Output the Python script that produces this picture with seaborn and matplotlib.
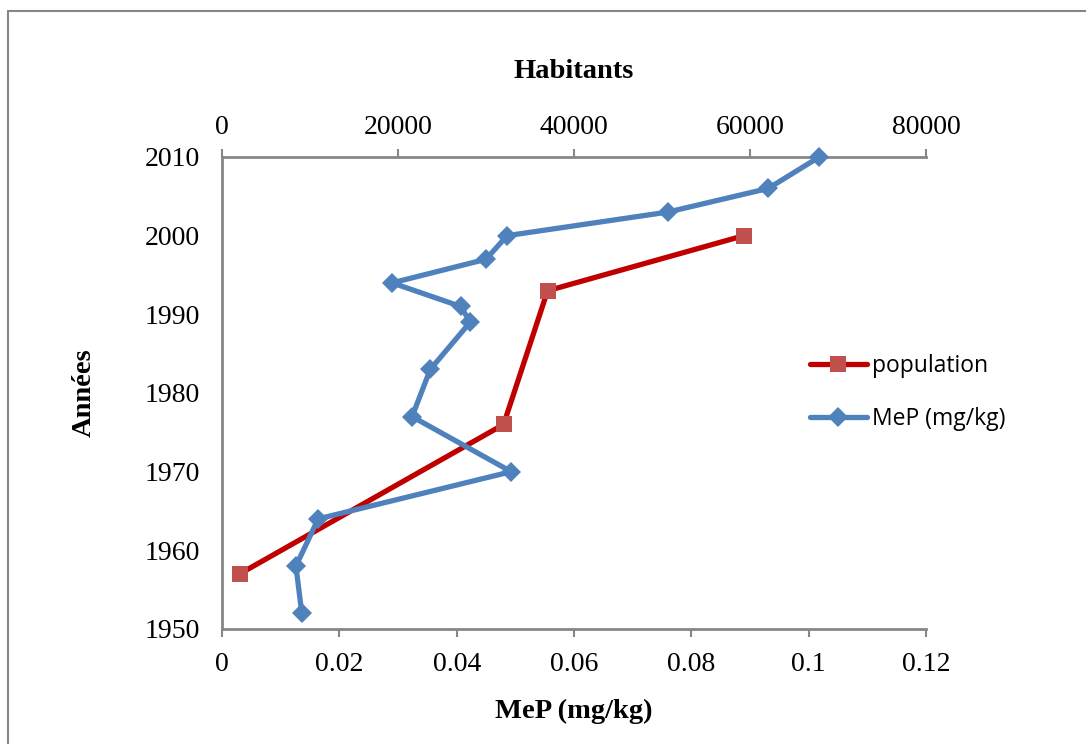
import numpy as np
import pandas as pd
import seaborn as sns
import matplotlib.pyplot as plt
from matplotlib.lines import Line2D

# MeP (mg/kg) measured in sediment cores, by year
mep_years = [2010, 2006, 2003, 2000, 1997, 1994, 1991, 1989, 1983, 1977, 1970, 1964, 1958, 1952]
mep_values = [0.1018, 0.0931, 0.0760, 0.0486, 0.0450, 0.0290, 0.0407, 0.0423, 0.0355, 0.0324, 0.0493, 0.0164, 0.0126, 0.0136]

# population (habitants), by year
pop_years = [1957, 1976, 1993, 2000]
pop_values = [2000, 32000, 37000, 59300]

mep_ticks = [0, 0.02, 0.04, 0.06, 0.08, 0.1, 0.12]
mep_ticklabels = ["0", "0.02", "0.04", "0.06", "0.08", "0.1", "0.12"]
pop_ticks = [0, 20000, 40000, 60000, 80000]
year_ticks = [1950, 1960, 1970, 1980, 1990, 2000, 2010]

sns.set_style("white")
plt.rcParams['font.family'] = ['Liberation Serif', 'DejaVu Serif']
plt.rcParams['text.color'] = 'black'
plt.rcParams['axes.labelcolor'] = 'black'

df_mep = pd.DataFrame({"year": mep_years, "mep": mep_values})
df_pop = pd.DataFrame({"year": pop_years, "pop": pop_values})

grey = "#868686"
blue = "#4F81BD"
red_line = "#C00000"
red_marker = "#C0504D"

fig = plt.figure(figsize=(10.86, 7.44), dpi=100)
ax = fig.add_axes([222 / 1086, 1 - 629 / 744, (926 - 222) / 1086, (629 - 157) / 744])
ax2 = ax.twiny()

sns.lineplot(data=df_mep, x="mep", y="year", sort=False, ax=ax, color=blue,
             linewidth=3.8, marker="D", markersize=10.5, markeredgewidth=0,
             markerfacecolor=blue, zorder=3, clip_on=False)
sns.lineplot(data=df_pop, x="pop", y="year", sort=False, ax=ax2, color=red_line,
             linewidth=3.8, marker="s", markersize=12, markeredgewidth=0,
             markerfacecolor=red_marker, zorder=3, clip_on=False)
ax.set_zorder(ax2.get_zorder() + 1)
ax.patch.set_visible(False)

ax.set_xlim(0, 0.12)
ax.set_ylim(1950, 2010)
ax2.set_xlim(0, 80000)
ax2.set_ylim(1950, 2010)

ax.set_xticks(mep_ticks)
ax.set_xticklabels(mep_ticklabels)
ax.set_yticks(year_ticks)
ax2.set_xticks(pop_ticks)

for a in (ax, ax2):
    for s in a.spines.values():
        s.set_visible(False)
    a.tick_params(labelsize=20, colors=grey, labelcolor="black", length=6, width=1.5, direction="out")

ax.spines["left"].set_visible(True)
ax.spines["bottom"].set_visible(True)
ax2.spines["top"].set_visible(True)
for s in (ax.spines["left"], ax.spines["bottom"], ax2.spines["top"]):
    s.set_color(grey)
    s.set_linewidth(2)
ax.tick_params(axis="x", pad=10.5)
ax.tick_params(axis="y", pad=10)
ax2.tick_params(axis="x", pad=6)
ax2.tick_params(axis="y", left=False, right=False, labelleft=False, labelright=False)

ax.set_xlabel("MeP (mg/kg)", fontsize=20.5, fontweight="bold", labelpad=16, color="black")
ax.set_ylabel("Années", fontsize=20.5, fontweight="bold", labelpad=34, color="black")
ax2.set_xlabel("Habitants", fontsize=20.5, fontweight="bold", labelpad=27, color="black")

handles = [
    Line2D([], [], color=red_line, linewidth=3.8, marker="s", markersize=12,
           markeredgewidth=0, markerfacecolor=red_marker),
    Line2D([], [], color=blue, linewidth=3.8, marker="D", markersize=10.5,
           markeredgewidth=0, markerfacecolor=blue),
]
for a in (ax, ax2):
    if a.get_legend() is not None:
        a.get_legend().remove()
fig.legend(handles, ["population", "MeP (mg/kg)"], loc="upper left",
           bbox_to_anchor=(789 / 1086, 1 - 333 / 744), frameon=False,
           prop={"family": ["Open Sans", "DejaVu Sans"], "size": 16.5},
           handlelength=2.5, handletextpad=0.2, labelspacing=1.3, labelcolor="black")

# outer chart frame
fig.add_artist(Line2D([8 / 1086, 8 / 1086], [0, 1 - 11 / 744], color=grey, linewidth=1.5,
                      transform=fig.transFigure))
fig.add_artist(Line2D([8 / 1086, 1], [1 - 11 / 744, 1 - 11 / 744], color=grey, linewidth=1.5,
                      transform=fig.transFigure))

fig.savefig("out.png", dpi=100)
